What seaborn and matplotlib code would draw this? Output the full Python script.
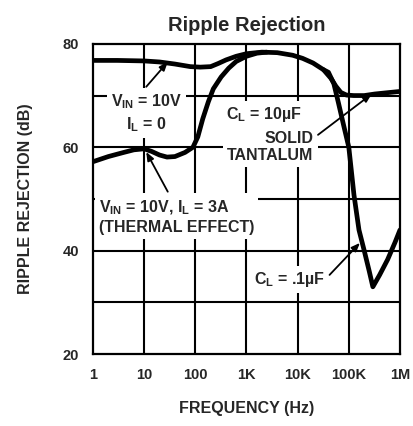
import numpy as np
import pandas as pd
import matplotlib
matplotlib.use("Agg")
import matplotlib.pyplot as plt
import seaborn as sns

# ripple rejection curves (freq in Hz, dB)
freq_il0 = [1, 3, 10, 20, 40, 80, 125, 200, 280, 400, 630, 1000, 2000, 4000,
            8000, 12500, 20000, 32000, 45000, 56000, 70000, 90000, 125000,
            200000, 320000, 630000, 1000000]
db_il0 = [76.8, 76.8, 76.7, 76.5, 76.1, 75.6, 75.5, 75.6, 76.2, 76.9, 77.6,
          78.1, 78.4, 78.3, 77.8, 77.2, 76.3, 75.0, 73.3, 71.8, 70.6, 70.1,
          70.0, 70.0, 70.3, 70.6, 70.8]

freq_thermal = [1, 2, 4, 6.3, 10, 14, 20, 28, 40, 63, 90, 112, 140, 180, 225,
                320, 450, 630, 1000, 1600, 2500]
db_thermal = [57.2, 58.2, 59.0, 59.5, 59.7, 59.2, 58.5, 58.1, 58.2, 59.0, 60.0,
              62.0, 65.5, 68.8, 71.3, 73.6, 75.3, 76.6, 77.6, 78.2, 78.4]

freq_cl01 = [32000, 40000, 51000, 63000, 79000, 100000, 112000, 126000,
             158000, 200000, 251000, 295000, 400000, 575000, 800000, 1000000]
db_cl01 = [75.0, 74.5, 72.3, 68.5, 64.3, 60.0, 55.5, 50.8, 44.0, 40.0, 36.0,
           33.0, 35.3, 38.3, 41.6, 44.0]

x_ticks = [1, 10, 100, 1e3, 1e4, 1e5, 1e6]
x_ticklabels = ["1", "10", "100", "1K", "10K", "100K", "1M"]
y_grid = [20, 30, 40, 50, 60, 70, 80]
y_ticks = [20, 40, 60, 80]

sns.set_style("white")
plt.rcParams['font.family'] = ['Liberation Sans', 'DejaVu Sans']
plt.rcParams['mathtext.fontset'] = 'custom'
plt.rcParams['mathtext.rm'] = 'Liberation Sans:bold'
plt.rcParams['mathtext.it'] = 'Liberation Sans:bold'
plt.rcParams['mathtext.bf'] = 'Liberation Sans:bold'

fig = plt.figure(figsize=(4.13, 4.26), dpi=100)
ax = fig.add_axes([0.225, 0.169, 0.7435, 0.728])

for f, d in [(freq_il0, db_il0), (freq_thermal, db_thermal), (freq_cl01, db_cl01)]:
    sns.lineplot(x=f, y=d, ax=ax, color="black", linewidth=3.4, zorder=3)

ax.set_xscale("log")
ax.set_xlim(1, 1e6)
ax.set_ylim(20, 80)

# grid drawn as plain lines so text boxes can sit on top of it
for xv in x_ticks[1:-1]:
    ax.axvline(xv, color="black", lw=1.5, zorder=1)
for yv in y_grid[1:-1]:
    ax.axhline(yv, color="black", lw=1.5, zorder=1)
for s in ax.spines.values():
    s.set_color("black")
    s.set_linewidth(1.6)

ax.set_xticks(x_ticks)
ax.set_xticklabels(x_ticklabels)
ax.minorticks_off()
ax.set_yticks(y_ticks)
ax.tick_params(length=0, labelsize=10.5, pad=10)
for lab in ax.get_xticklabels() + ax.get_yticklabels():
    lab.set_fontweight("bold")

ax.set_title("Ripple Rejection", fontsize=14.5, fontweight="bold", pad=9)
ax.set_xlabel("FREQUENCY (Hz)", fontsize=11.5, fontweight="bold", labelpad=14)
ax.set_ylabel("RIPPLE REJECTION (dB)", fontsize=11.5, fontweight="bold", labelpad=21)

box = dict(boxstyle="square,pad=0.25", fc="white", ec="none")
tkw = dict(fontsize=11.5, fontweight="bold", zorder=2, bbox=box)

ax.text(11, 66.6, "V$_{\\mathrm{IN}}$ = 10V\nI$_{\\mathrm{L}}$ = 0", ha="center",
        va="center", multialignment="center", linespacing=1.3, **tkw)
ax.text(2200, 66.3, "C$_{\\mathrm{L}}$ = 10µF", ha="center", va="center", **tkw)
ax.text(20500, 60.0, "SOLID\nTANTALUM", ha="right", va="center",
        multialignment="right", linespacing=1.15, **tkw)
ax.text(1.3, 46.5, "V$_{\\mathrm{IN}}$ = 10V, I$_{\\mathrm{L}}$ = 3A\n(THERMAL EFFECT)",
        ha="left", va="center", linespacing=1.25, **tkw)
ax.text(7100, 34.5, "C$_{\\mathrm{L}}$ = .1µF", ha="center", va="center", **tkw)

arrow = dict(arrowstyle="-|>,head_length=0.5,head_width=0.2", color="black",
             lw=1.3, shrinkA=0, shrinkB=0)
ax.annotate("", xy=(29, 76.5), xytext=(11, 71.7), arrowprops=arrow, zorder=4)
ax.annotate("", xy=(11, 59.1), xytext=(29, 51.4), arrowprops=arrow, zorder=4)
ax.annotate("", xy=(280000, 70.3), xytext=(25000, 62.4), arrowprops=arrow, zorder=4)
ax.annotate("", xy=(165000, 41.5), xytext=(42000, 35.3), arrowprops=arrow, zorder=4)

fig.savefig("out.png", dpi=100)
